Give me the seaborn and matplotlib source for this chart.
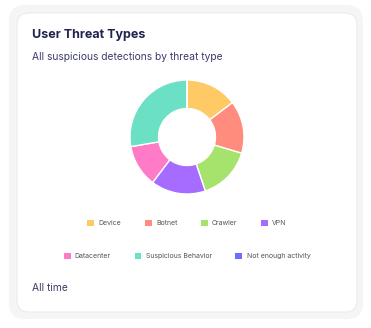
import matplotlib
matplotlib.use("Agg")
import matplotlib.pyplot as plt
import seaborn as sns
from matplotlib.patches import FancyBboxPatch, Patch

categories = ["Device", "Botnet", "Crawler", "VPN", "Datacenter",
              "Suspicious Behavior", "Not enough activity"]
values = [14.7, 14.9, 15.2, 15.5, 12.0, 27.7, 0.0]
colors = ["#FFC966", "#FF8C7C", "#A6E36C", "#A66CFF", "#FF7BC8",
          "#6CE0C4", "#6C6CFF"]

sns.set_theme(style="white")
plt.rcParams["font.family"] = ["Inter", "DejaVu Sans"]

W, H = 371, 328
fig = plt.figure(figsize=(W / 100, H / 100), dpi=100)
fig.patch.set_facecolor("white")

def rect(x0, y0, x1, y1, pad, fc, ec, lw, z):
    p = FancyBboxPatch((x0 / W, 1 - y1 / H), (x1 - x0) / W, (y1 - y0) / H,
                       boxstyle=f"round,pad=0,rounding_size={pad / W}",
                       transform=fig.transFigure, fc=fc, ec=ec, lw=lw,
                       zorder=z, mutation_aspect=W / H)
    fig.patches.append(p)

rect(9, 5, 363, 319, 16, "#f5f5f5", "none", 0, 0)
rect(17, 13, 357, 312, 12, "white", "#ececec", 0.8, 1)

fig.text(32 / W, 1 - 35 / H, "User Threat Types", fontsize=9.0,
         fontweight="bold", color="#22224f", va="center", ha="left", zorder=3)
fig.text(32 / W, 1 - 57 / H, "All suspicious detections by threat type",
         fontsize=7.4, color="#3c3c6a", va="center", ha="left", zorder=3)
fig.text(32 / W, 1 - 288 / H, "All time", fontsize=7.4,
         color="#3c3c6a", va="center", ha="left", zorder=3)

cx, cy, r = 187, 137, 57
ax = fig.add_axes([(cx - r) / W, 1 - (cy + r) / H, 2 * r / W, 2 * r / H])
ax.set_zorder(3)
ax.patch.set_alpha(0)
ax.pie(values, colors=colors, startangle=90, counterclock=False,
       wedgeprops=dict(width=0.5, edgecolor="white", linewidth=1.0))
ax.set_xlim(-1, 1)
ax.set_ylim(-1, 1)
ax.set_aspect("equal")
ax.axis("off")

handles = [Patch(facecolor=c, edgecolor="none", label=l)
           for c, l in zip(colors, categories)]
common = dict(frameon=False, fontsize=5.0, handlelength=1.0,
              handleheight=1.0, handletextpad=0.6, columnspacing=3.4,
              labelcolor="#555555", borderaxespad=0, borderpad=0)
leg1 = fig.legend(handles=handles[:4], ncol=4, loc="center",
                  bbox_to_anchor=(187 / W, 1 - 223 / H), **common)
leg2 = fig.legend(handles=handles[4:], ncol=3, loc="center",
                  bbox_to_anchor=(187 / W, 1 - 256 / H), **common)
leg1.set_zorder(3)
leg2.set_zorder(3)

fig.savefig("out.png", dpi=100)
